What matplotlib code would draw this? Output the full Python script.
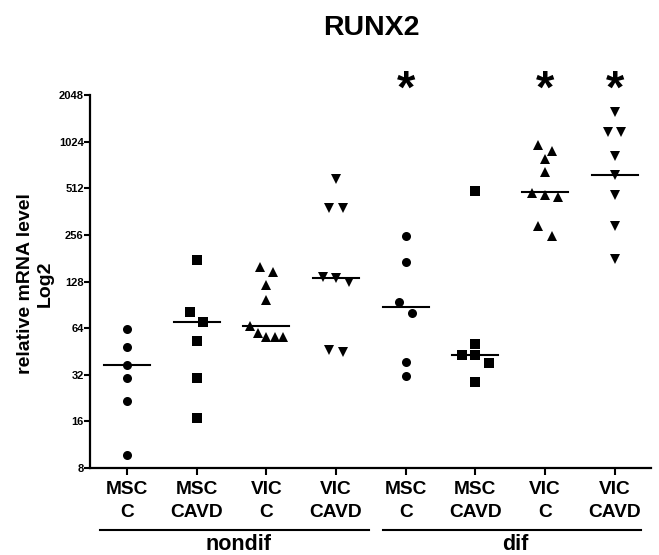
import numpy as np
import matplotlib
matplotlib.use("Agg")
import matplotlib.pyplot as plt
import matplotlib.transforms as mtransforms

plt.rcParams['font.family'] = ['Liberation Sans', 'DejaVu Sans']
plt.rcParams['font.weight'] = 'bold'

# ---------------- data ----------------
title = "RUNX2"
cell_labels = ["MSC\nC", "MSC\nCAVD", "VIC\nC", "VIC\nCAVD",
               "MSC\nC", "MSC\nCAVD", "VIC\nC", "VIC\nCAVD"]
group_names = ["nondif", "dif"]
markers = ["o", "s", "^", "v", "o", "s", "^", "v"]

msc_c_nondif = [63, 48, 37, 30.5, 21.7, 9.7]
msc_cavd_nondif = [175, 81, 70, 53, 30.3, 16.8]
vic_c_nondif = [159, 148, 122, 97, 66, 59.7, 56.5, 56.5, 56.5]
vic_cavd_nondif = [588, 380, 380, 137, 135, 128, 46.3, 45]
msc_c_dif = [252, 172, 94, 80, 38.6, 31.3]
msc_cavd_dif = [491, 50.6, 42.8, 42.8, 38.3, 28.8]
vic_c_dif = [968, 885, 793, 651, 478, 465, 452, 294, 252]
vic_cavd_dif = [1585, 1180, 1180, 832, 626, 465, 290, 179]
series = [msc_c_nondif, msc_cavd_nondif, vic_c_nondif, vic_cavd_nondif,
          msc_c_dif, msc_cavd_dif, vic_c_dif, vic_cavd_dif]

center_lines = [36.8, 70, 66, 135, 87, 42.8, 484, 626]
significant = [False, False, False, False, True, False, True, True]

y_ticks = [8, 16, 32, 64, 128, 256, 512, 1024, 2048]
ylabel = "relative mRNA level\nLog2"


def swarm_offsets(vals, row_tol=0.24, step=0.19, max_span=0.48):
    lv = np.log2(np.asarray(vals, dtype=float))
    order = np.argsort(-lv, kind="stable")
    offsets = np.zeros(len(lv))
    rows, cur = [], [order[0]]
    for idx in order[1:]:
        if lv[cur[0]] - lv[idx] < row_tol:
            cur.append(idx)
        else:
            rows.append(cur)
            cur = [idx]
    rows.append(cur)
    for r in rows:
        n = len(r)
        if n > 1:
            s = min(step, max_span / (n - 1))
            for k, idx in enumerate(r):
                offsets[idx] = (k - (n - 1) / 2) * s
    return offsets


# ---------------- figure ----------------
fig = plt.figure(figsize=(6.59, 5.55), dpi=100)
ax = fig.add_axes([90 / 659, 1 - 468 / 555, 561 / 659, 373 / 555])

for i, (vals, m) in enumerate(zip(series, markers)):
    off = swarm_offsets(vals)
    ms = 7 if m in ("^", "v") else 6.5
    ax.plot(i + off, vals, linestyle="none", marker=m, markersize=ms,
            color="black", markeredgewidth=0, clip_on=False, zorder=3)
    ax.plot([i - 0.33, i + 0.33], [center_lines[i], center_lines[i]],
            color="black", lw=1.5, zorder=2)

ax.set_yscale("log", base=2)
ax.set_ylim(8, 2048)
ax.set_xlim(-0.53, 7.52)
ax.set_yticks(y_ticks)
ax.set_yticklabels([str(t) for t in y_ticks])
ax.yaxis.set_minor_locator(matplotlib.ticker.NullLocator())
ax.set_xticks(range(len(cell_labels)))
ax.set_xticklabels(cell_labels, fontsize=13.8, fontweight="bold", linespacing=1.5)

for lab in ax.get_yticklabels():
    lab.set_fontsize(8)
    lab.set_fontweight("bold")

ax.tick_params(axis="y", length=4, width=1.5, pad=0.5)
ax.tick_params(axis="x", length=5, width=1.5, pad=4)
for side in ("top", "right"):
    ax.spines[side].set_visible(False)
for side in ("left", "bottom"):
    ax.spines[side].set_linewidth(1.6)

# significance asterisks
trans = mtransforms.blended_transform_factory(ax.transData, ax.transAxes)
for i, sig in enumerate(significant):
    if sig:
        ax.text(i, 1.0123, "*", transform=trans, ha="center", va="center",
                fontsize=34, fontweight="bold", clip_on=False)

# group bars and names
ftrans = mtransforms.blended_transform_factory(ax.transData, fig.transFigure)
group_spans = [(-0.38, 3.47), (3.68, 7.37)]
group_label_x = [1.6, 5.57]
for (x0, x1), lx, name in zip(group_spans, group_label_x, group_names):
    ax.plot([x0, x1], [1 - 530 / 555] * 2, transform=ftrans, color="black",
            lw=1.5, clip_on=False)
    ax.text(lx, 1 - 550 / 555, name, transform=ftrans,
            ha="center", va="baseline", fontsize=15.5, fontweight="bold")

fig.text(371.5 / 659, 1 - 35 / 555, title, ha="center", va="baseline",
         fontsize=20.5, fontweight="bold")
fig.text(35 / 659, 1 - 284 / 555, ylabel, rotation=90, ha="center",
         va="center", multialignment="center", fontsize=14, fontweight="bold")

fig.savefig("out.png", dpi=100)
